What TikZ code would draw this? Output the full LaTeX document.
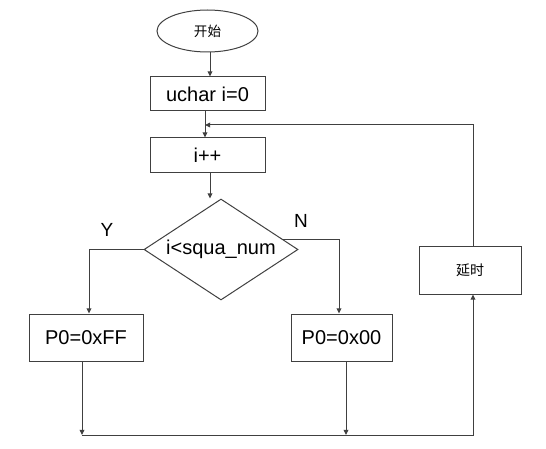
\documentclass[tikz,border=0pt]{standalone}
\usepackage{fontspec}
\setmainfont{Liberation Sans}
\newfontfamily\cjk{Noto Sans CJK SC}
\usetikzlibrary{shapes.geometric,arrows.meta}
\begin{document}
\begin{tikzpicture}[x=0.5pt, y=-0.5pt, >={Triangle[length=2.6pt,width=2.4pt]},
 line/.style={draw=black!75, line width=0.5pt},
 proc/.style={shape=rectangle, line, inner sep=0pt, font=\fontsize{10}{12}\selectfont},
 term/.style={shape=ellipse, line, inner sep=0pt, font=\cjk\fontsize{6.8}{8}\selectfont},
 test/.style={shape=diamond, line, inner sep=0pt, aspect=1.5, font=\fontsize{10}{12}\selectfont},
 mark label/.style={inner sep=0pt, font=\fontsize{9.5}{11}\selectfont},
]
\useasboundingbox (0,0) rectangle (546,449);

%nodes
\node (start) at (207.5,31) [term, minimum width=50.5pt, minimum height=21pt] {开始};
\node (init) at (207.5,94) [proc, minimum width=57.5pt, minimum height=17pt] {uchar i=0};
\node (inc) at (207.5,155) [proc, minimum width=57.5pt, minimum height=17pt] {i++};
\node (cond) at (221,249.5) [test, minimum width=77pt, minimum height=50.5pt] {i<squa\_num};
\node (yes) at (86,337.5) [proc, minimum width=57pt, minimum height=23.5pt] {P0=0xFF};
\node (no) at (341.5,337.5) [proc, minimum width=50.5pt, minimum height=23.5pt] {P0=0x00};
\node (delay) at (470,270) [proc, minimum width=51pt, minimum height=24pt, font=\cjk\fontsize{7}{8}\selectfont] {延时};

\node (ylabel) at (107,230) [mark label] {Y};
\node (nlabel) at (301,221) [mark label] {N};

\coordinate (loopin) at (205,125);
\coordinate (join) at (82,435);

%connectors
\draw[line,->] ([xshift=1.25pt]start.south) -- ([xshift=1.25pt]init.north);
\draw[line,->] ([xshift=-1.25pt]init.south) -- ([xshift=-1.25pt]inc.north);
\draw[line,->] ([xshift=1.25pt]inc.south) -- ([xshift=1.25pt]inc.south |- cond.north);
\draw[line,->] (cond.west) -| ([xshift=1.5pt]yes.north);
\draw[line,->] (cond.9) -| ([xshift=-1.25pt]no.north);
\draw[line,->] ([xshift=-2pt]yes.south) -- (join);
\draw[line,->] ([xshift=2.25pt]no.south) -- ([xshift=2.25pt]no.south |- join);
\draw[line,->] (join) -| ([xshift=1.5pt]delay.south);
\draw[line,->] ([xshift=1.5pt]delay.north) |- (loopin);

\end{tikzpicture}
\end{document}
